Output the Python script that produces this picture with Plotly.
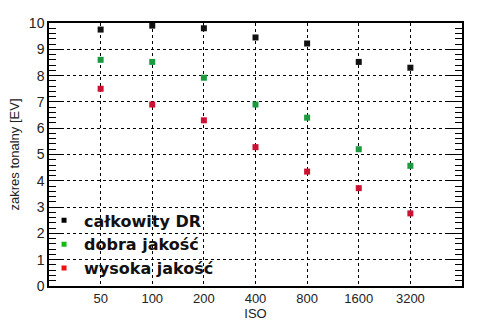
import plotly.graph_objects as go

iso = [50, 100, 200, 400, 800, 1600, 3200]
iso_labels = ["50", "100", "200", "400", "800", "1600", "3200"]
calkowity = [9.75, 9.9, 9.8, 9.45, 9.22, 8.52, 8.3]
dobra = [8.6, 8.52, 7.92, 6.9, 6.4, 5.2, 4.57]
wysoka = [7.5, 6.9, 6.3, 5.28, 4.35, 3.72, 2.76]

series = [
    ("całkowity DR", calkowity, "#111111", "#000000"),
    ("dobra jakość", dobra, "#1b9a40", "#11bb11"),
    ("wysoka jakość", wysoka, "#cc1133", "#ee1111"),
]

fig = go.Figure()
for name, vals, col, lcol in series:
    fig.add_trace(go.Scatter(x=iso, y=vals, mode="markers", name=name,
                             marker=dict(symbol="square", size=6, color=col, line=dict(width=0)),
                             showlegend=False))
for name, vals, col, lcol in series:
    fig.add_trace(go.Scatter(x=[None], y=[None], mode="markers", name=name,
                             marker=dict(symbol="square", size=5, color=lcol, line=dict(width=0))))

font = "Liberation Sans, Arial, sans-serif"
fig.update_layout(
    width=494, height=331,
    margin=dict(l=49, r=32, t=23, b=43),
    paper_bgcolor="white", plot_bgcolor="white",
    font=dict(family=font, size=13, color="#222"),
    showlegend=True,
    legend=dict(x=-0.012, y=0.158, xanchor="left", yanchor="middle",
                bgcolor="rgba(0,0,0,0)", borderwidth=0,
                font=dict(family="DejaVu Sans", size=16, color="#111", weight="bold"),
                itemwidth=30, tracegroupgap=0),
    xaxis=dict(type="log", range=[1.39794, 3.80618],
               tickvals=iso, ticktext=iso_labels,
               showline=True, linecolor="black", linewidth=1.5, mirror=True,
               ticks="", showgrid=True, gridcolor="black", griddash="dot", gridwidth=1,
               title=dict(text="ISO", font=dict(family=font, size=13), standoff=4),
               zeroline=False),
    yaxis=dict(range=[0, 10], dtick=1, tick0=0,
               showline=True, linecolor="black", linewidth=1.5, mirror="ticks",
               ticks="inside", ticklen=14, tickcolor="black", tickwidth=1,
               minor=dict(dtick=0.2, ticks="inside", ticklen=7, tickcolor="black", tickwidth=1, showgrid=False),
               showgrid=True, gridcolor="black", griddash="dot", gridwidth=1,
               title=dict(text="zakres tonalny [EV]", font=dict(family=font, size=13), standoff=6),
               tickfont=dict(family=font, size=14),
               zeroline=False),
)

fig.write_html("out.html")
